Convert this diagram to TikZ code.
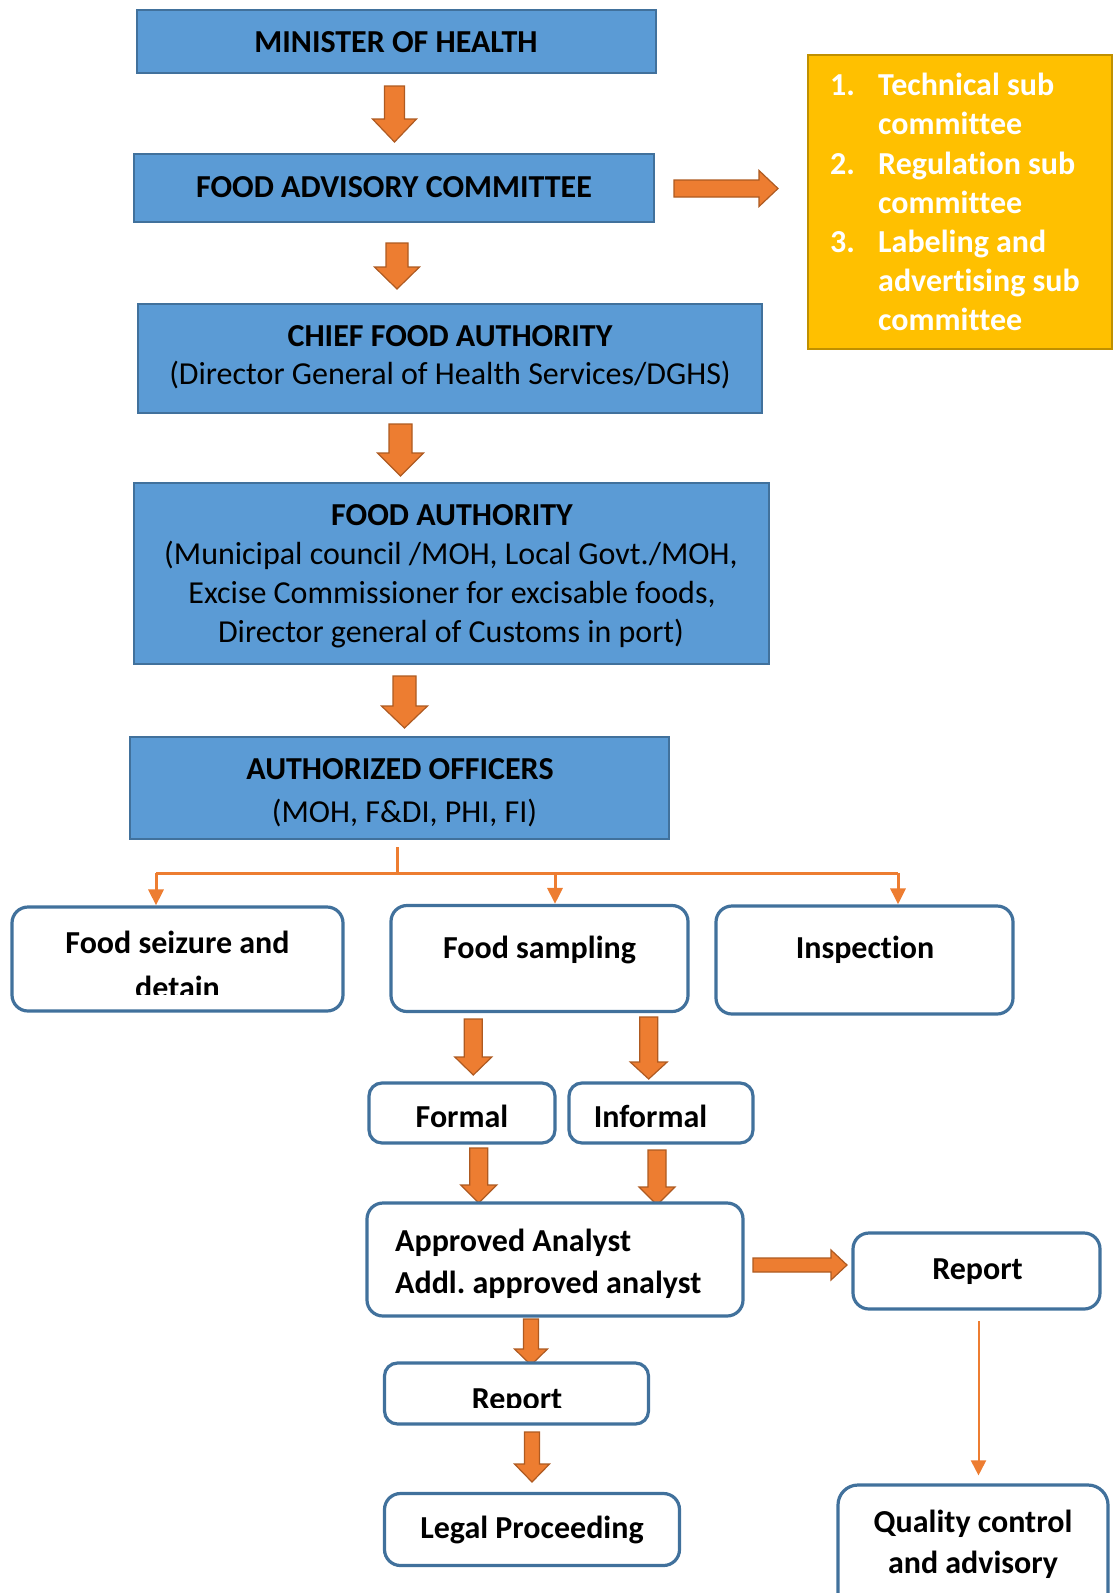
\documentclass[tikz,border=0pt]{standalone}
\usepackage{fontspec}
\setmainfont{Carlito}[Ligatures=NoCommon]
\usetikzlibrary{arrows.meta}

\definecolor{boxblue}{HTML}{5B9BD5}
\definecolor{edgeblue}{HTML}{41719C}
\definecolor{orng}{HTML}{ED7D31}
\definecolor{orngedge}{HTML}{AE5A21}
\definecolor{gold}{HTML}{FFC000}
\definecolor{goldedge}{HTML}{C09000}

\newcommand\txtsize{\fontsize{32}{39}\selectfont}
\frenchspacing

% block arrow pointing down: x, top, tip, shaft half width, head half width, head length
\newcommand\downblock[6]{%
  \filldraw[blockarrow] (#1-#4,#2) -- (#1+#4,#2) -- (#1+#4,#3-#6) -- (#1+#5,#3-#6)
    -- (#1,#3) -- (#1-#5,#3-#6) -- (#1-#4,#3-#6) -- cycle;}
% block arrow pointing right: left, tip, y, shaft half height, head half height, head length
\newcommand\rightblock[6]{%
  \filldraw[blockarrow] (#1,#3-#4) -- (#2-#6,#3-#4) -- (#2-#6,#3-#5) -- (#2,#3)
    -- (#2-#6,#3+#5) -- (#2-#6,#3+#4) -- (#1,#3+#4) -- cycle;}

\tikzset{
  bluebox/.style={draw=edgeblue, fill=boxblue, line width=2pt, inner sep=0pt},
  goldbox/.style={draw=goldedge, fill=gold, line width=2pt, inner sep=0pt},
  roundbox/.style={draw=edgeblue, fill=white, line width=3.2pt, rounded corners=16pt, inner sep=0pt},
  bold/.style={font=\txtsize\bfseries, inner sep=0pt, anchor=base},
  regular/.style={font=\txtsize, inner sep=0pt, anchor=base},
  listtext/.style={font=\txtsize\bfseries, text=white, inner sep=0pt, anchor=base west},
  blockarrow/.style={draw=orngedge, fill=orng, line width=1.2pt, line join=miter},
  branchline/.style={draw=orng, line width=3pt},
  branch/.style={branchline, -{Triangle[length=16pt 0, width=15pt 0]}},
  thinarrow/.style={draw=orng, line width=2pt, -{Triangle[length=15pt 0, width=15pt 0]}},
}

\begin{document}
\begin{tikzpicture}[x=1pt, y=-1pt]
\useasboundingbox (0,0) rectangle (1113,1593);
\clip (0,0) rectangle (1113,1593);

% ---- top chain of authorities ----
\node[bluebox, minimum width=519pt, minimum height=63pt] (min) at (396,41.5) {};
\node[bold] (minT) at (396,52) {MINISTER OF HEALTH};

\node[bluebox, minimum width=520pt, minimum height=68pt] (fac) at (394,188) {};
\node[bold] (facT) at (394,197) {FOOD ADVISORY COMMITTEE};

\node[bluebox, minimum width=624pt, minimum height=109pt] (cfa) at (449.5,358.5) {};
\node[bold] (cfaT1) at (450,346) {CHIEF FOOD AUTHORITY};
\node[regular] (cfaT2) at (450,384) {(Director General of Health Services/DGHS)};

\node[bluebox, minimum width=635pt, minimum height=181pt] (fa) at (451.5,573.5) {};
\node[bold] (faT1) at (452,525) {FOOD AUTHORITY};
\node[regular] (faT2) at (451,564) {(Municipal council /MOH, Local Govt./MOH,};
\node[regular] (faT3) at (452,603) {Excise Commissioner for excisable foods,};
\node[regular] (faT4) at (451,642) {Director general of Customs in port)};

\node[bluebox, minimum width=539pt, minimum height=102pt] (ao) at (399.5,788) {};
\node[bold] (aoT1) at (400,779) {AUTHORIZED OFFICERS};
\node[regular] (aoT2) at (404.5,822) {(MOH, F\&DI, PHI, FI)};

% ---- sub committees ----
\node[goldbox, minimum width=304pt, minimum height=294pt] (sub) at (960,202) {};
\node[listtext] (n1) at (830,95) {1.};
\node[listtext] (s1a) at (878,95) {Technical sub};
\node[listtext] (s1b) at (878,134.5) {committee};
\node[listtext] (n2) at (830,174) {2.};
\node[listtext] (s2a) at (878,174) {Regulation sub};
\node[listtext] (s2b) at (878,213) {committee};
\node[listtext] (n3) at (830,252.5) {3.};
\node[listtext] (s3a) at (878,252.5) {Labeling and};
\node[listtext] (s3b) at (878,291.5) {advertising sub};
\node[listtext] (s3c) at (878,330.5) {committee};

% ---- block arrows of the chain ----
\downblock{394.5}{86}{142}{10}{22}{23}
\downblock{397}{243}{289}{11}{22.5}{22}
\downblock{400.5}{424}{476}{11.5}{23}{23}
\downblock{404.5}{676}{728}{11.5}{23}{22}
\rightblock{674}{778}{188.5}{8.5}{18}{19}

% ---- activities of the officers ----
\node[roundbox, minimum width=331pt, minimum height=104pt] (fsz) at (177.5,959) {};
\node[bold] (fszT1) at (177.5,953) {Food seizure and};
\begin{scope}
  \clip (20,960) rectangle (335,994);
  \node[bold] (fszT2) at (177.5,998) {detain};
\end{scope}

\node[roundbox, minimum width=297pt, minimum height=106pt] (fsm) at (539.5,958.5) {};
\node[bold] (fsmT) at (539.5,958) {Food sampling};

\node[roundbox, minimum width=297pt, minimum height=108pt] (ins) at (864.5,960) {};
\node[bold] (insT) at (865,958) {Inspection};

% branching connector below the officers
\coordinate (stem) at (397,847);
\coordinate (fork) at (397,873);
\coordinate (bl) at (156,873);
\coordinate (bm) at (555,873);
\coordinate (br) at (898,873);
\draw[branchline] (stem) -- (fork);
\draw[branchline] (bl) -- (br);
\draw[branch] (bl) -- (bl |- fsz.north);
\draw[branch] (bm) -- (bm |- fsm.north);
\draw[branch] (br) -- (br |- ins.north);

% ---- sampling route ----
\node[roundbox, rounded corners=13pt, minimum width=186pt, minimum height=60pt] (frm) at (462,1113) {};
\node[bold] (frmT) at (462,1127) {Formal};
\node[roundbox, rounded corners=13pt, minimum width=184pt, minimum height=60pt] (inf) at (661,1113) {};
\node[bold] (infT) at (650.5,1127) {Informal};

\downblock{473.3}{1019}{1075}{9}{18.5}{18}
\downblock{648.7}{1017}{1079}{9}{18.5}{17}
\downblock{478.8}{1148}{1203}{9}{18}{18}
\downblock{657}{1150}{1205}{9}{18}{18}

\node[roundbox, minimum width=376pt, minimum height=113pt] (ana) at (555,1259.5) {};
\node[bold, anchor=base west] (anaT1) at (395,1251) {Approved Analyst};
\node[bold, anchor=base west] (anaT2) at (395,1293) {Addl. approved analyst};

\rightblock{753}{847}{1265}{7}{15}{16}
\node[roundbox, minimum width=247pt, minimum height=76pt] (rpr) at (976.5,1271) {};
\node[bold] (rprT) at (977.5,1279) {Report};

\downblock{531}{1319}{1365}{7.5}{16.5}{16}
\node[roundbox, rounded corners=13pt, minimum width=264pt, minimum height=61pt] (rpl) at (516.5,1393.5) {};
\begin{scope}
  \clip (390,1370) rectangle (645,1407);
  \node[bold] (rplT) at (517,1409) {Report};
\end{scope}

\downblock{532}{1432}{1482}{7.5}{17.5}{18}
\node[roundbox, minimum width=295pt, minimum height=72pt] (leg) at (532,1529.5) {};
\node[bold] (legT) at (532,1538) {Legal Proceeding};

% ---- quality control branch ----
\node[roundbox, rounded corners=20pt, minimum width=270pt, minimum height=130pt] (qc) at (973,1550) {};
\node[bold] (qcT1) at (973,1532) {Quality control};
\node[bold] (qcT2) at (973,1573) {and advisory};

\coordinate (qtop) at (978.5,1321);
\draw[thinarrow, shorten >=8pt] (qtop) -- (qtop |- qc.north);
\end{tikzpicture}
\end{document}
